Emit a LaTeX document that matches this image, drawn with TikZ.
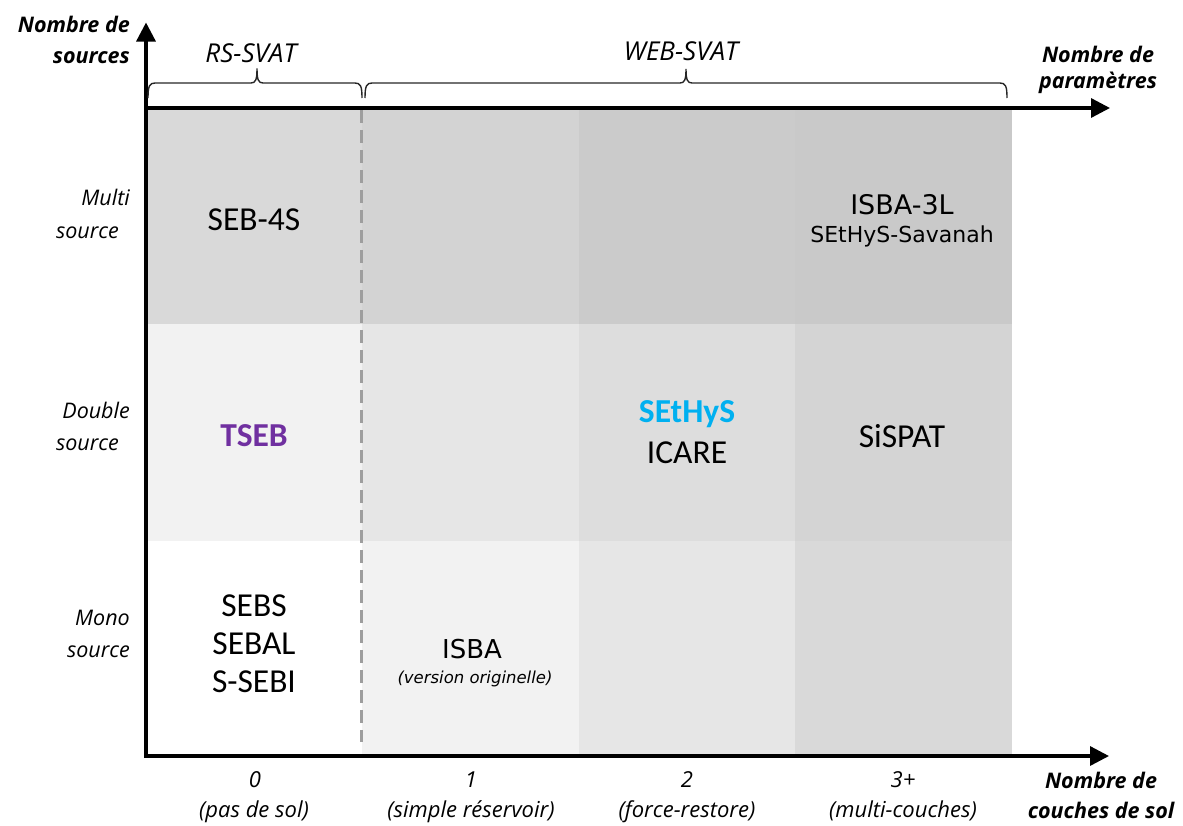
\documentclass[tikz,border=0pt]{standalone}
\usepackage{fontspec}
\setmainfont{Open Sans}
\newfontfamily\calfont{Carlito}
\newfontfamily\dvfont{DejaVu Sans}
\usetikzlibrary{arrows.meta}
\definecolor{tsebpurple}{HTML}{7030A0}
\definecolor{sethysblue}{HTML}{00B0F0}
\definecolor{cA}{HTML}{D9D9D9}
\definecolor{cB}{HTML}{D3D3D3}
\definecolor{cC}{HTML}{CBCBCB}
\definecolor{cD}{HTML}{C9C9C9}
\definecolor{mA}{HTML}{F2F2F2}
\definecolor{mB}{HTML}{E6E6E6}
\definecolor{mC}{HTML}{DDDDDD}
\definecolor{mD}{HTML}{D4D4D4}
\definecolor{bA}{HTML}{FFFFFF}
\definecolor{bB}{HTML}{F2F2F2}
\definecolor{bC}{HTML}{E6E6E6}
\definecolor{bD}{HTML}{D9D9D9}
\definecolor{dashgray}{HTML}{9E9E9E}
\tikzset{
  axisline/.style={line width=3.3pt,-{Triangle[length=19pt,width=19pt]}},
  bracestyle/.style={line width=1.4pt,draw=black!85},
  axlab/.style={font=\fontsize{21.5}{26}\selectfont\bfseries\itshape,inner sep=0,anchor=base},
  rowlab/.style={font=\fontsize{21.5}{26}\selectfont\itshape,inner sep=0,anchor=base east},
  collab/.style={font=\fontsize{22}{26}\selectfont\itshape,inner sep=0,anchor=base},
  grplab/.style={font=\fontsize{26}{30}\selectfont\itshape,inner sep=0,anchor=base},
  model/.style={font=\fontsize{33.5}{38}\selectfont\calfont,inner sep=0,anchor=base},
  modelb/.style={font=\fontsize{33.5}{38}\selectfont\calfont\bfseries,inner sep=0,anchor=base},
  dvmodel/.style={inner sep=0,anchor=base},
}
\begin{document}
\begin{tikzpicture}[x=1pt,y=-1pt]
\useasboundingbox (0,0) rectangle (1183,825);
% cells: top row
\fill[cA] (147,108) rectangle (362,324);
\fill[cB] (362,108) rectangle (579,324);
\fill[cC] (579,108) rectangle (795,324);
\fill[cD] (795,108) rectangle (1012,324);
% middle row
\fill[mA] (147,324) rectangle (362,541);
\fill[mB] (362,324) rectangle (579,541);
\fill[mC] (579,324) rectangle (795,541);
\fill[mD] (795,324) rectangle (1012,541);
% bottom row
\fill[bA] (147,541) rectangle (362,755);
\fill[bB] (362,541) rectangle (579,755);
\fill[bC] (579,541) rectangle (795,755);
\fill[bD] (795,541) rectangle (1012,755);
% dashed separator
\coordinate (dashtop) at (361.5,110);
\coordinate (dashbot) at (361.5,742);
\draw[dashgray,line width=2.2pt,dash pattern=on 13pt off 7pt] (dashtop) -- (dashbot);
% axes
\coordinate (origin) at (146,756);
\coordinate (ytip) at (146,22.5);
\coordinate (xtopstart) at (146,108);
\coordinate (xtoptip) at (1110,108);
\coordinate (xbotstart) at (144.4,756);
\coordinate (xbottip) at (1109,756);
\draw[axisline] ([yshift=1.65pt]origin) -- (ytip);
\draw[axisline] (xtopstart) -- (xtoptip);
\draw[axisline] (xbotstart) -- (xbottip);
% braces
\draw[bracestyle] (148,98) .. controls (148,86) and (149.5,83) .. (155,83) -- (251,83)
  .. controls (255.5,83) and (257,80) .. (257,68.5)
  .. controls (257,80) and (258.5,83) .. (263,83) -- (355,83)
  .. controls (360.5,83) and (362,86) .. (362,98);
\draw[bracestyle] (365,98) .. controls (365,86) and (366.5,83) .. (372,83) -- (680,83)
  .. controls (684.5,83) and (686,80) .. (686,69)
  .. controls (686,80) and (687.5,83) .. (692,83) -- (1000,83)
  .. controls (1005.5,83) and (1007,86) .. (1007,98);
\node[grplab] (rssvat) at (251,62) {RS-SVAT};
\node[grplab] (websvat) at (681,60) {WEB-SVAT};
% axis titles
\node[axlab,anchor=base east] (ys1) at (130,32) {Nombre de};
\node[axlab,anchor=base east] (ys2) at (130,63) {sources};
\node[axlab] (xp1) at (1098,62) {Nombre de};
\node[axlab] (xp2) at (1098,88) {paramètres};
\node[axlab] (xc1) at (1101,788) {Nombre de};
\node[axlab] (xc2) at (1101,818) {couches de sol};
% row labels
\node[rowlab] (r1a) at (130,205) {Multi};
\node[rowlab] (r1b) at (119,238) {source};
\node[rowlab] (r2a) at (130,418) {Double};
\node[rowlab] (r2b) at (119,450) {source};
\node[rowlab] (r3a) at (130,625) {Mono};
\node[rowlab] (r3b) at (130,657) {source};
% column labels
\node[collab] (c0a) at (255,787) {0};
\node[collab] (c0b) at (254,817) {(pas de sol)};
\node[collab] (c1a) at (471,787) {1};
\node[collab] (c1b) at (471,817) {(simple réservoir)};
\node[collab] (c2a) at (687,787) {2};
\node[collab] (c2b) at (687,817) {(force-restore)};
\node[collab] (c3a) at (903,787) {3+};
\node[collab] (c3b) at (903,817) {(multi-couches)};
% models
\node[model] (seb4s) at (254,230) {SEB-4S};
\node[dvmodel,font=\fontsize{27}{30}\selectfont\dvfont] (isba3l) at (902,214) {ISBA-3L};
\node[dvmodel,font=\fontsize{22}{26}\selectfont\dvfont] (savanah) at (902,242) {SEtHyS-Savanah};
\node[modelb,text=tsebpurple] (tseb) at (254,446) {TSEB};
\node[modelb,text=sethysblue] (sethys) at (687,422) {SEtHyS};
\node[model] (icare) at (687,463) {ICARE};
\node[model] (sispat) at (902,447) {SiSPAT};
\node[model] (sebs) at (254,616) {SEBS};
\node[model] (sebal) at (254,654) {SEBAL};
\node[model] (ssebi) at (254,692) {S-SEBI};
\node[dvmodel,font=\fontsize{26}{30}\selectfont\dvfont] (isba) at (472,658) {ISBA};
\node[dvmodel,font=\fontsize{16.5}{20}\selectfont\dvfont\itshape] (isbaver) at (475,683) {(version originelle)};
\end{tikzpicture}
\end{document}
